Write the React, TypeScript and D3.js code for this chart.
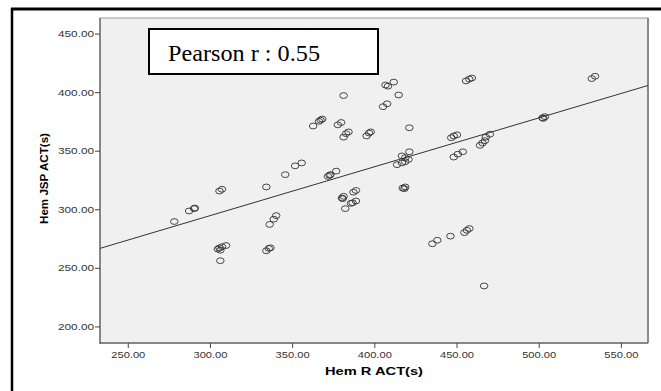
import * as d3 from "d3";
import { useEffect, useRef } from "react";

const hemR = [
  278, 287, 290, 290.5, 305.5, 307, 304.5, 305.5, 306, 307, 309.5, 306, 334, 334, 335.5, 336.5, 336, 338.5, 340,
  345.5, 351.5, 355.5, 362.5, 366, 367, 368, 371.5, 372.5, 373, 376.5, 377.5, 379.5, 381, 381, 382.5, 384, 395,
  397.5, 396.5, 380, 381, 380.5, 387, 388.5, 382, 385.5, 386.5, 388.5, 405, 407.5, 406.5, 408, 411.5, 414.5, 421,
  421, 416.5, 418.5, 420.5, 413.5, 416.5, 418.5, 417, 418.5, 418, 435, 438, 446, 454.5, 456, 457.5, 466.5, 448,
  450.5, 453.5, 446.5, 448, 450, 455.5, 457.5, 459, 464, 465.5, 467, 467.5, 470, 502, 503.5, 502.5, 532, 534,
];
const hemJSP = [
  290, 299, 301, 301.5, 316, 317.5, 266.5, 267.5, 265.5, 268.5, 269.5, 256.5, 319.5, 265, 267, 267.5, 287.5, 292,
  295, 330, 337.5, 340, 371.5, 375.5, 376.5, 377.5, 328.5, 329.5, 330, 333, 372.5, 374.5, 397.5, 362, 365, 366.5,
  363, 366.5, 365.5, 310, 311.5, 309.5, 315, 316.5, 301, 305.5, 306, 307.5, 388, 390.5, 406.5, 405.5, 409, 398,
  370, 349.5, 346, 344.5, 343, 338.5, 340, 341, 318.5, 319.5, 318, 271, 274, 277.5, 280.5, 282.5, 284, 235, 345,
  347.5, 349.5, 361.5, 363, 364, 410, 411.5, 412.5, 355, 357, 359, 362, 364.5, 378.5, 379.5, 378, 412, 414,
];
const xTicks = [250, 300, 350, 400, 450, 500, 550];
const yTicks = [200, 250, 300, 350, 400, 450];
const fitLine = [232.8, 566.2];
const fit = (v: number) => 170 + 0.417 * v;

export default function App() {
  const ref = useRef<SVGSVGElement>(null);

  useEffect(() => {
    if (!ref.current) return;
    const el = ref.current;
    d3.select(el).selectAll("*").remove();

    const W = 661;
    const H = 391;
    const plot = { left: 100, right: 648, top: 18, bottom: 343 };
    const svg = d3.select(el).attr("width", W).attr("height", H);

    svg.append("rect").attr("width", W).attr("height", H).attr("fill", "#fff");

    // outer frame
    svg.append("line").attr("x1", 11).attr("x2", W).attr("y1", 9).attr("y2", 9).attr("stroke", "#000").attr("stroke-width", 3);
    svg.append("line").attr("x1", 12).attr("x2", 12).attr("y1", 8).attr("y2", H).attr("stroke", "#000").attr("stroke-width", 2.5);

    const x = d3.scaleLinear().domain([232.8, 566.2]).range([plot.left, plot.right]);
    const y = d3.scaleLinear().domain([186.3, 463.7]).range([plot.bottom, plot.top]);

    svg
      .append("rect")
      .attr("x", plot.left)
      .attr("y", plot.top)
      .attr("width", plot.right - plot.left)
      .attr("height", plot.bottom - plot.top)
      .attr("fill", "#f0f0f0")
      .attr("stroke", "#9a9a9a")
      .attr("stroke-width", 1);
    svg.append("line").attr("x1", plot.right).attr("x2", plot.right).attr("y1", plot.top).attr("y2", plot.bottom).attr("stroke", "#8a8a8a").attr("stroke-width", 2);
    svg.append("line").attr("x1", plot.left).attr("x2", plot.left).attr("y1", plot.top).attr("y2", plot.bottom + 1).attr("stroke", "#444");
    svg.append("line").attr("x1", plot.left).attr("x2", plot.right).attr("y1", plot.bottom).attr("y2", plot.bottom).attr("stroke", "#444");

    // y ticks
    const yg = svg.append("g");
    yg.selectAll("line")
      .data(yTicks)
      .join("line")
      .attr("x1", plot.left - 5)
      .attr("x2", plot.left)
      .attr("y1", d => y(d))
      .attr("y2", d => y(d))
      .attr("stroke", "#444");
    yg.selectAll("text")
      .data(yTicks)
      .join("text")
      .attr("x", 94)
      .attr("y", d => y(d) + 3)
      .attr("text-anchor", "end")
      .attr("font-family", "Liberation Sans, Arial, sans-serif")
      .attr("font-size", 8.5)
      .attr("fill", "#333")
      .attr("textLength", 36)
      .attr("lengthAdjust", "spacingAndGlyphs")
      .text(d => d.toFixed(2));

    // x ticks
    const xg = svg.append("g");
    xg.selectAll("line")
      .data(xTicks)
      .join("line")
      .attr("x1", d => x(d))
      .attr("x2", d => x(d))
      .attr("y1", plot.bottom)
      .attr("y2", plot.bottom + 5)
      .attr("stroke", "#444");
    xg.selectAll("text")
      .data(xTicks)
      .join("text")
      .attr("x", d => x(d) - 17)
      .attr("y", 358)
      .attr("font-family", "Liberation Sans, Arial, sans-serif")
      .attr("font-size", 8.5)
      .attr("fill", "#333")
      .attr("textLength", 34)
      .attr("lengthAdjust", "spacingAndGlyphs")
      .text(d => d.toFixed(2));

    // axis titles
    svg
      .append("text")
      .attr("x", 325)
      .attr("y", 375)
      .attr("font-family", "Liberation Sans, Arial, sans-serif")
      .attr("font-weight", 700)
      .attr("font-size", 11)
      .attr("textLength", 98)
      .attr("lengthAdjust", "spacingAndGlyphs")
      .text("Hem R ACT(s)");
    svg
      .append("text")
      .attr("transform", "translate(48,224) rotate(-90)")
      .attr("font-family", "Liberation Sans, Arial, sans-serif")
      .attr("font-weight", 700)
      .attr("font-size", 11)
      .attr("textLength", 91)
      .attr("lengthAdjust", "spacingAndGlyphs")
      .text("Hem JSP ACT(s)");

    // fit line
    svg
      .append("line")
      .attr("x1", x(fitLine[0]))
      .attr("y1", y(fit(fitLine[0])))
      .attr("x2", x(fitLine[1]))
      .attr("y2", y(fit(fitLine[1])))
      .attr("stroke", "#333")
      .attr("stroke-width", 1);

    // points
    svg
      .append("g")
      .selectAll("ellipse")
      .data(d3.range(hemR.length))
      .join("ellipse")
      .attr("cx", i => x(hemR[i]))
      .attr("cy", i => y(hemJSP[i]))
      .attr("rx", 3.8)
      .attr("ry", 2.9)
      .attr("fill", "none")
      .attr("stroke", "#333")
      .attr("stroke-width", 0.9);

    // Pearson box
    svg
      .append("rect")
      .attr("x", 149)
      .attr("y", 29)
      .attr("width", 229)
      .attr("height", 45)
      .attr("fill", "#fff")
      .attr("stroke", "#000")
      .attr("stroke-width", 2);
    svg
      .append("text")
      .attr("x", 168)
      .attr("y", 61)
      .attr("font-family", "Liberation Serif, Times New Roman, serif")
      .attr("font-size", 22.5)
      .attr("textLength", 152)
      .attr("lengthAdjust", "spacingAndGlyphs")
      .text("Pearson r : 0.55");
  }, []);

  return (
    <div style={{ position: "absolute", left: 0, top: 0 }}>
      <svg ref={ref} style={{ display: "block" }} />
    </div>
  );
}
